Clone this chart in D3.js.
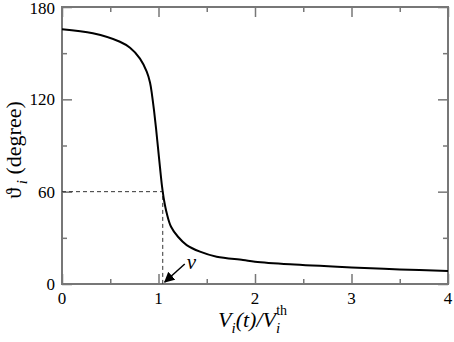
<!DOCTYPE html>
<html>
<head>
<meta charset="utf-8">
<script src="https://cdn.jsdelivr.net/npm/d3@7"></script>
<style>
  body { margin: 0; background: #fff; }
</style>
</head>
<body>
<svg id="chart" width="454" height="342"></svg>
<script>
// values
var ratio = [0, 0.32, 0.6, 0.705, 0.808, 0.878, 0.912, 0.933, 0.953, 0.974, 0.995, 1.016, 1.036, 1.044, 1.057, 1.085, 1.13, 1.202, 1.292, 1.43, 1.603, 1.876, 2.0, 2.363, 3.0, 3.5, 4.0];
var angle = [165.5, 162.9, 157.4, 153.5, 146.5, 138, 131, 122.8, 113.1, 101.4, 88.4, 75.4, 63.7, 60, 54.6, 46.1, 37.2, 30.7, 25.3, 21, 17.7, 15.6, 14.5, 12.8, 10.8, 9.5, 8.4];
var xTicks = [0, 1, 2, 3, 4];
var yTicks = [0, 60, 120, 180];
var marker = [1.044, 60];

var serif = "'Liberation Serif', 'DejaVu Serif', 'Times New Roman', Times, serif";

var margin = {top: 7, right: 6, bottom: 58, left: 62},
    width = 454 - margin.left - margin.right,
    height = 342 - margin.top - margin.bottom;

var svg = d3.select("#chart").attr("font-family", serif);
var g = svg.append("g").attr("transform", "translate(" + margin.left + "," + margin.top + ")");

var x = d3.scaleLinear().domain([0, 4]).range([0, width]);
var y = d3.scaleLinear().domain([0, 180]).range([height, 0]);

var axisColor = "#777";

// ticks, inward on all four sides
function ticks(axisFn, scale, major, minor, tx) {
  var a = g.append("g").attr("transform", tx || null);
  a.call(axisFn(scale).tickValues(major).tickSize(-10).tickFormat(""));
  a.append("g").call(axisFn(scale).tickValues(minor).tickSize(-5).tickFormat(""));
  a.selectAll(".domain").remove();
  a.selectAll("line").attr("stroke", axisColor).attr("stroke-width", 1.5);
}
var xMinor = [0.5, 1.5, 2.5, 3.5];
var yMinor = [30, 90, 150];
ticks(d3.axisBottom, x, xTicks, xMinor, "translate(0," + height + ")");
ticks(d3.axisTop, x, xTicks, xMinor);
ticks(d3.axisLeft, y, yTicks, yMinor);
ticks(d3.axisRight, y, yTicks, yMinor, "translate(" + width + ",0)");

g.append("rect")
  .attr("width", width).attr("height", height)
  .attr("fill", "none").attr("stroke", axisColor).attr("stroke-width", 2);

// tick labels
g.selectAll(".xl").data(xTicks).enter().append("text")
  .attr("font-family", serif)
  .attr("x", function(d) { return x(d); })
  .attr("y", height + 20)
  .attr("text-anchor", "middle")
  .attr("font-size", 17)
  .text(function(d) { return d; });

g.selectAll(".yl").data(yTicks).enter().append("text")
  .attr("font-family", serif)
  .attr("x", -7)
  .attr("y", function(d) { return y(d) + (d === 180 ? 7 : 6); })
  .attr("text-anchor", "end")
  .attr("font-size", 17)
  .text(function(d) { return d; });

// dashed guide lines
g.append("path")
  .attr("d", "M0," + y(marker[1]) + "H" + x(marker[0]) + "V" + height)
  .attr("fill", "none").attr("stroke", "#333").attr("stroke-width", 1)
  .attr("stroke-dasharray", "4,3");

// curve
var line = d3.line()
  .x(function(d, i) { return x(ratio[i]); })
  .y(function(d) { return y(d); })
  .curve(d3.curveCatmullRom.alpha(0.5));

g.append("path")
  .datum(angle)
  .attr("d", line)
  .attr("fill", "none")
  .attr("stroke", "#000")
  .attr("stroke-width", 2);

// nu annotation with arrow
svg.append("defs").append("marker")
  .attr("id", "arr").attr("viewBox", "0 0 10 10")
  .attr("refX", 9).attr("refY", 5)
  .attr("markerWidth", 7).attr("markerHeight", 7)
  .attr("orient", "auto")
  .append("path").attr("d", "M0,0L10,5L0,10z").attr("fill", "#000");

g.append("line")
  .attr("x1", x(marker[0]) + 22).attr("y1", height - 20)
  .attr("x2", x(marker[0]) + 2).attr("y2", height - 2)
  .attr("stroke", "#000").attr("stroke-width", 1.5)
  .attr("marker-end", "url(#arr)");

g.append("text")
  .attr("font-family", serif)
  .attr("x", x(marker[0]) + 24).attr("y", height - 15)
  .attr("font-size", 21).attr("font-style", "italic")
  .text("ν");

// axis titles
var xt = svg.append("text")
  .attr("font-family", serif)
  .attr("x", 218).attr("y", 327)
  .attr("font-size", 22).attr("font-style", "italic");
xt.append("tspan").text("V");
xt.append("tspan").attr("font-size", 15).attr("dy", 6).text("i");
xt.append("tspan").attr("dy", -6).text("(t)/V");
xt.append("tspan").attr("font-size", 15).attr("dy", 6).text("i");
xt.append("tspan").attr("font-size", 14).attr("font-style", "normal").attr("dx", -4).attr("dy", -18).text("th");

var yt = svg.append("text")
  .attr("font-family", serif)
  .attr("transform", "translate(21,150) rotate(-90)")
  .attr("text-anchor", "middle")
  .attr("font-size", 22);
yt.append("tspan").text("ϑ");
yt.append("tspan").attr("font-size", 15).attr("font-style", "italic").attr("dy", 6).text(" i");
yt.append("tspan").attr("dy", -6).text(" (degree)");
</script>
</body>
</html>
